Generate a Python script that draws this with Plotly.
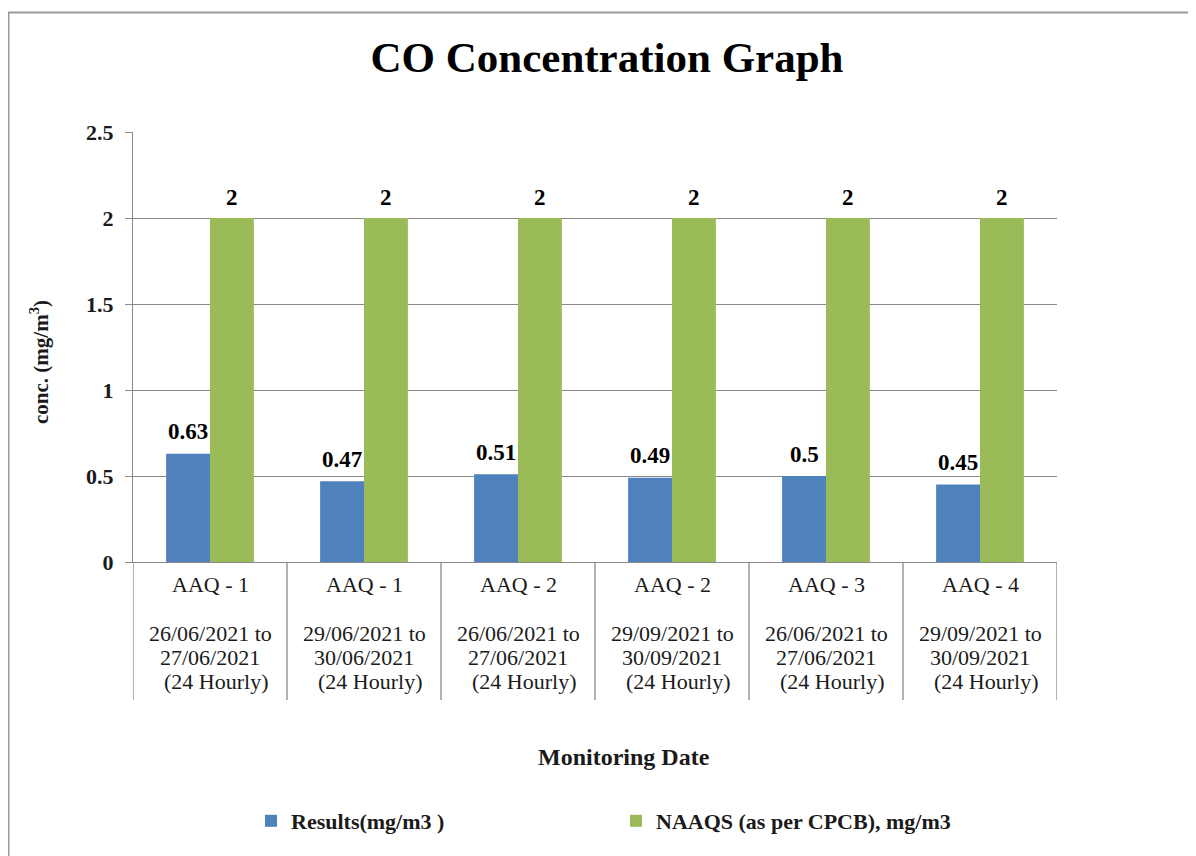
import plotly.graph_objects as go

stations = ["AAQ - 1", "AAQ - 1", "AAQ - 2", "AAQ - 2", "AAQ - 3", "AAQ - 4"]
date_from = ["26/06/2021", "29/06/2021", "26/06/2021", "29/09/2021", "26/06/2021", "29/09/2021"]
date_to = ["27/06/2021", "30/06/2021", "27/06/2021", "30/09/2021", "27/06/2021", "30/09/2021"]
period = ["(24 Hourly)"] * 6
results = [0.63, 0.47, 0.51, 0.49, 0.5, 0.45]
naaqs = [2, 2, 2, 2, 2, 2]
y_ticks = [0, 0.5, 1, 1.5, 2, 2.5]

categories = [f"{s} | {a} to {b}" for s, a, b in zip(stations, date_from, date_to)]

SERIF = "Liberation Serif, Times New Roman, serif"
BLUE = "#4F81BD"
GREEN = "#9BBB59"
GRID = "#898989"
TXT = "#1a1a1a"

# figure is drawn inside the page's 8px body margin
W, H = 1188, 848
ml, mr, mt, mb = 125, 139, 124, 294
pw, ph = W - ml - mr, H - mt - mb

fig = go.Figure()
fig.add_trace(go.Bar(x=categories, y=results, name="<b>Results(mg/m3 )</b>", marker_color=BLUE,
                     marker_line_width=0))
fig.add_trace(go.Bar(x=categories, y=naaqs, name="<b>NAAQS (as per CPCB), mg/m3</b>", marker_color=GREEN,
                     marker_line_width=0))

annotations = []
for c, v in zip(categories, results):
    annotations.append(dict(x=c, y=v, xref="x", yref="y", text=f"<b>{v:g}</b>", showarrow=False,
                            xshift=-22, yshift=22, yanchor="middle",
                            font=dict(family=SERIF, size=23, color="black")))
for c, v in zip(categories, naaqs):
    annotations.append(dict(x=c, y=v, xref="x", yref="y", text=f"<b>{v:g}</b>", showarrow=False,
                            xshift=22, yshift=21, yanchor="middle",
                            font=dict(family=SERIF, size=23, color="black")))

# multi-level category labels, one line each
label_lines = [stations, [f"{a} to" for a in date_from], date_to, [f"  {p}" for p in period]]
line_offsets = [22, 71, 95, 119]
for lines, off in zip(label_lines, line_offsets):
    for c, t in zip(categories, lines):
        annotations.append(dict(x=c, y=0, xref="x", yref="paper", text=t, showarrow=False,
                                yanchor="middle", yshift=-off,
                                font=dict(family=SERIF, size=22, color=TXT)))

annotations.append(dict(x=(623.5 - 8 - ml) / pw, y=-(195 / ph), xref="paper", yref="paper",
                        text="<b>Monitoring Date</b>",
                        showarrow=False, yanchor="middle",
                        font=dict(family=SERIF, size=24, color=TXT)))
annotations.append(dict(x=(31 - ml) / pw, y=(554 - 354) / ph, xref="paper", yref="paper",
                        text="<b>conc. (mg/m<sup>3</sup>)</b>", textangle=-90,
                        showarrow=False, xanchor="center", yanchor="middle",
                        font=dict(family=SERIF, size=21, color=TXT)))

shapes = []
for i in range(len(categories) + 1):
    shapes.append(dict(type="line", xref="x", yref="paper", x0=i - 0.5, x1=i - 0.5, y0=0, y1=-138 / ph,
                       line=dict(color=GRID, width=1.3)))
# outer chart border (right and bottom edges fall outside the picture)
shapes.append(dict(type="rect", xref="paper", yref="paper",
                   x0=(0.5 - ml) / pw, x1=(W + 20 - ml) / pw,
                   y0=-(mb + 20) / ph, y1=1 + (mt - 4.5) / ph,
                   line=dict(color="#9a9a9a", width=2), fillcolor="rgba(0,0,0,0)", layer="below"))

fig.update_layout(
    width=W, height=H,
    margin=dict(l=ml, r=mr, t=mt, b=mb),
    paper_bgcolor="white", plot_bgcolor="white",
    barmode="group", bargap=0.43, bargroupgap=0,
    title=dict(text="<b>CO Concentration Graph</b>", x=(607 - 8) / W, xanchor="center",
               y=1 - 48.5 / H, yanchor="middle",
               font=dict(family=SERIF, size=43, color="black")),
    showlegend=True,
    legend=dict(orientation="h", x=(243 - ml) / pw, xanchor="left", y=-259 / ph, yanchor="middle",
                font=dict(family=SERIF, size=22, color=TXT),
                entrywidth=320, entrywidthmode="pixels", itemwidth=30),
    annotations=annotations,
    shapes=shapes,
    font=dict(family=SERIF, color="black"),
)
fig.update_xaxes(type="category", range=[-0.5, len(categories) - 0.5], showline=True, linecolor=GRID,
                 linewidth=1.3, ticks="", showgrid=False, showticklabels=False)
fig.update_yaxes(range=[0, 2.5], tickvals=y_ticks, ticktext=[f"<b>{t:g}</b>" for t in y_ticks],
                 showgrid=True, gridcolor=GRID, gridwidth=1.3, showline=True, linecolor=GRID, linewidth=1.3,
                 ticks="outside", ticklen=7, tickcolor=GRID, zeroline=False, ticklabelstandoff=7,
                 tickfont=dict(family=SERIF, size=22, color=TXT))

fig.write_html("out.html")
